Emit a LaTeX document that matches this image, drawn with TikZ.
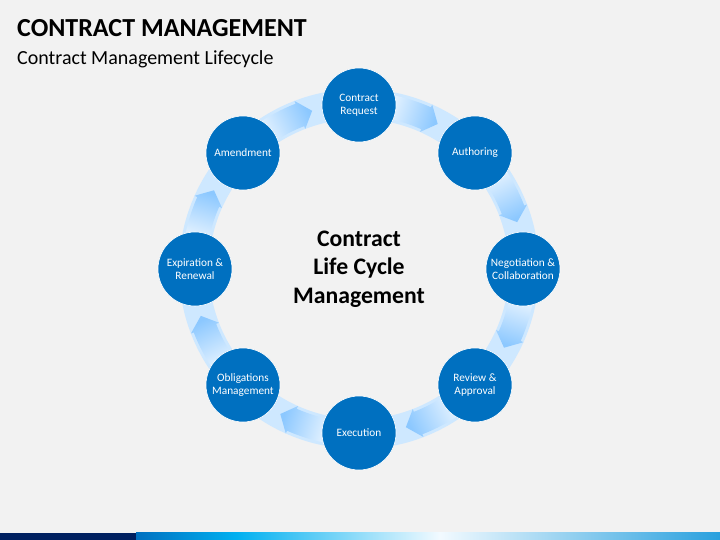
\documentclass[tikz,border=0pt]{standalone}
\usepackage{fontspec}
\setmainfont{Carlito}
\usepackage{xcolor}
\usetikzlibrary{positioning}
\definecolor{bggrey}{RGB}{242,242,242}
\definecolor{stageblue}{RGB}{0,112,192}
\definecolor{ringblue}{RGB}{206,232,255}
\definecolor{arrowlight}{RGB}{232,244,255}
\definecolor{arrowdark}{RGB}{140,200,255}
\definecolor{barnavy}{RGB}{0,32,96}
\definecolor{barblue}{RGB}{0,112,192}
\definecolor{barcyan}{RGB}{0,176,240}
\definecolor{barpale}{RGB}{242,250,255}
\definecolor{barend}{RGB}{40,160,222}

\tikzset{
  stage/.style={circle,fill=stageblue,draw=white,line width=0.6pt,minimum size=74pt,inner sep=0pt,
    text=white,align=center,font=\fontsize{11.3}{13}\selectfont},
  pics/ringarrow/.style={code={
    \shade[top color=arrowlight,bottom color=arrowdark,shading angle=#1-18]
      (#1-10:153pt) arc[start angle=#1-10,end angle=#1-24,radius=153pt]
      -- (#1-24:150pt) -- (#1-28.5:165pt) -- (#1-24:180pt) -- (#1-24:177pt)
      arc[start angle=#1-24,end angle=#1-10,radius=177pt] -- cycle;
  }}
}

\begin{document}
\begin{tikzpicture}[x=1pt,y=1pt,node distance=164pt,on grid]
  \useasboundingbox[fill=bggrey] (0,0) rectangle (720,540);
  \coordinate (c) at (359,271);
  \draw[ringblue,line width=30pt] (c) circle[radius=165pt];
  \pic at (c) {ringarrow=90};
  \pic at (c) {ringarrow=45};
  \pic at (c) {ringarrow=0};
  \pic at (c) {ringarrow=-45};
  \pic at (c) {ringarrow=-90};
  \pic at (c) {ringarrow=-135};
  \pic at (c) {ringarrow=180};
  \pic at (c) {ringarrow=135};
  \node[stage] (req) [above=of c,anchor=center] {Contract\\Request};
  \node[stage] (auth) [above right=116pt and 116pt of c,anchor=center] {Authoring};
  \node[stage] (neg) [right=of c,anchor=center] {Negotiation \&\\Collaboration};
  \node[stage] (rev) [below right=116pt and 116pt of c,anchor=center] {Review \&\\Approval};
  \node[stage] (exec) [below=of c,anchor=center] {Execution};
  \node[stage] (oblig) [below left=116pt and 116pt of c,anchor=center] {Obligations\\Management};
  \node[stage] (expir) [left=of c,anchor=center] {Expiration \&\\Renewal};
  \node[stage] (amend) [above left=116pt and 116pt of c,anchor=center] {Amendment};
  \node[align=center,font=\bfseries\fontsize{23.7}{28.5}\selectfont] (lcm) at (c) {Contract\\Life Cycle\\Management};
  \node[anchor=base west,inner sep=0pt,font=\bfseries\fontsize{26}{30}\selectfont] (title) at (17,503) {CONTRACT MANAGEMENT};
  \node[anchor=base west,inner sep=0pt,font=\fontsize{20}{24}\selectfont] (subtitle) at (17,475) {Contract Management Lifecycle};
  \fill[barnavy] (0,0) rectangle (136,7);
  \shade[left color=barblue,right color=barcyan] (136,0) rectangle (236,7);
  \shade[left color=barcyan,right color=barpale] (236,0) rectangle (440,7);
  \shade[left color=barpale,right color=barend] (440,0) rectangle (720,7);
\end{tikzpicture}
\end{document}
